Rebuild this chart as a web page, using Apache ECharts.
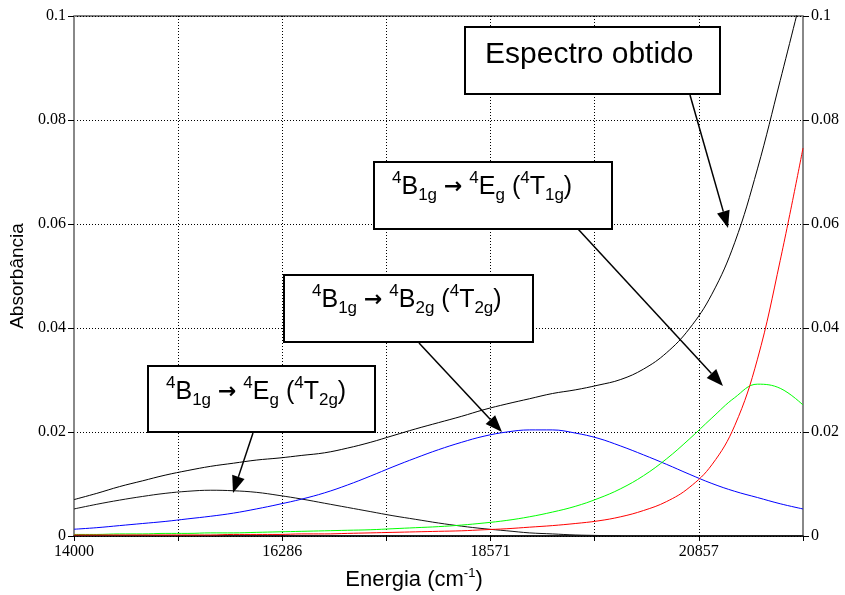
<!DOCTYPE html>
<html>
<head>
<meta charset="utf-8">
<script src="https://cdn.jsdelivr.net/npm/echarts@6/dist/echarts.min.js"></script>
<style>html,body{margin:0;padding:0;background:#fff}#c{width:845px;height:595px}</style>
</head>
<body>
<div id="c"></div>
<script>
// ---- data, energy in cm-1 ----
const energy = [14000,14250,14500,14750,15000,15250,15500,15750,16000,16250,16500,16750,17000,17250,17500,17750,
                18000,18250,18500,18750,19000,19250,19500,19750,20000,20250,20500,20750,21000,21250,21500,21750,22000];
// observed spectrum (black)
const spectrum   = [0.0070,0.0082,0.0095,0.0106,0.0117,0.0126,0.0134,0.0140,0.0146,0.0150,0.0155,0.0160,0.0169,0.0180,0.0193,0.0206,
                    0.0218,0.0230,0.0243,0.0254,0.0264,0.0274,0.0281,0.0290,0.0301,0.0321,0.0352,0.0398,0.0465,0.0564,0.0706,0.0876,0.1050];
// 4B1g -> 4Eg (4T2g)  (black)
const bandEgT2g  = [0.0052,0.0061,0.0069,0.0076,0.0082,0.0086,0.0088,0.0087,0.0084,0.0078,0.0071,0.0063,0.0055,0.0047,0.0039,0.0032,
                    0.0025,0.0019,0.0014,0.0010,0.0006,0.0004,0.0002,0.0001,0.0000,null,null,null,null,null,null,null,null];
// 4B1g -> 4B2g (4T2g)  (blue)
const bandB2gT2g = [0.0013,0.0016,0.0020,0.0024,0.0028,0.0033,0.0038,0.0044,0.0052,0.0061,0.0071,0.0083,0.0098,0.0115,0.0133,0.0150,
                    0.0166,0.0180,0.0192,0.0200,0.0204,0.0204,0.0198,0.0188,0.0173,0.0156,0.0138,0.0119,0.0101,0.0086,0.0074,0.0062,0.0052];
// 4B1g -> 4Eg (4T1g)  (green)
const bandEgT1g  = [0.0003,0.0003,0.0004,0.0004,0.0005,0.0005,0.0006,0.0006,0.0007,0.0008,0.0009,0.0010,0.0011,0.0012,0.0014,0.0016,
                    0.0018,0.0021,0.0025,0.0030,0.0037,0.0046,0.0057,0.0072,0.0091,0.0116,0.0148,0.0186,0.0227,0.0266,0.0292,0.0284,0.0252];
// high-energy band (red)
const bandHigh   = [0.0002,0.0002,0.0002,0.0002,0.0002,0.0002,0.0002,0.0003,0.0003,0.0003,0.0004,0.0004,0.0005,0.0006,0.0007,0.0008,
                    0.0009,0.0010,0.0012,0.0014,0.0017,0.0020,0.0024,0.0029,0.0037,0.0049,0.0066,0.0093,0.0137,0.0212,0.0340,0.0530,0.0746];
const xTickLabels = ['14000','','16286','','18571','','20857',''];
const yTickLabels = ['0','0.02','0.04','0.06','0.08','0.1'];
const xStart = 14000, xEnd = 22000, xStep = (xEnd - xStart) / 7;

function pairs(arr){
  const out = [];
  energy.forEach((e,i)=>{ if(arr[i]!==null) out.push([e - xStart, arr[i]]); });
  return out;
}

const serif = 'Liberation Serif';
const sans = 'Liberation Sans';

const rich = {
  n:   {fontSize: 25, fontFamily: sans, lineHeight: 34, verticalAlign: 'middle', fill: '#000'},
  sup: {fontSize: 17, fontFamily: sans, lineHeight: 20, verticalAlign: 'top', fill: '#000'},
  sub: {fontSize: 17, fontFamily: sans, lineHeight: 20, verticalAlign: 'bottom', fill: '#000'},
  ar:  {fontSize: 22, fontFamily: 'DejaVu Sans', fontWeight: 'bold', lineHeight: 34, verticalAlign: 'middle', fill: '#000'}
};

function box(x, y, w, h){
  return {type:'rect', z:100, shape:{x:x, y:y, width:w, height:h}, style:{fill:'#fff', stroke:'#000', lineWidth:2}};
}
function label(x, y, text){
  return {type:'text', z:101, x:x, y:y, style:{text:text, align:'left', verticalAlign:'middle', rich:rich}};
}
function arrow(x1, y1, x2, y2){
  const dx = x2 - x1, dy = y2 - y1, L = Math.sqrt(dx*dx + dy*dy);
  const ux = dx / L, uy = dy / L, hl = 17, hw = 6.5;
  const bx = x2 - ux*hl, by = y2 - uy*hl;
  return [
    {type:'line', z:102, shape:{x1:x1, y1:y1, x2:bx, y2:by}, style:{stroke:'#000', lineWidth:1.5}},
    {type:'polygon', z:102, shape:{points:[[x2,y2],[bx - uy*hw, by + ux*hw],[bx + uy*hw, by - ux*hw]]}, style:{fill:'#000'}}
  ];
}

const chart = echarts.init(document.getElementById('c'), null, {renderer:'canvas'});
const lineBase = {type:'line', showSymbol:false, smooth:0.4, lineStyle:{width:1}, clip:true, animation:false};

chart.setOption({
  animation:false,
  backgroundColor:'#fff',
  grid:{left:74, right:42, top:16, bottom:59, containLabel:false, outerBoundsMode:'none',
        show:true, borderColor:'#000', borderWidth:1, backgroundColor:'transparent'},
  xAxis:{
    type:'value', min:0, max:xEnd - xStart, interval:xStep,
    axisLine:{show:true, onZero:false, lineStyle:{color:'#000', width:1.5}},
    axisTick:{show:true, inside:false, length:5, lineStyle:{color:'#000', width:1}},
    axisLabel:{margin:8, color:'#000', fontFamily:serif, fontSize:16,
      formatter:function(v){ const i = Math.round(v / xStep); return xTickLabels[i] || ''; }},
    splitLine:{show:true, lineStyle:{color:'#000', type:[1,2], width:1}}
  },
  yAxis:[{
    type:'value', min:0, max:0.1, interval:0.02, position:'left',
    name:'Absorbância', nameLocation:'middle', nameGap:42,
    nameTextStyle:{fontFamily:sans, fontSize:19, color:'#000'},
    axisLine:{show:true, lineStyle:{color:'#888', width:2}},
    axisTick:{show:true, length:6, lineStyle:{color:'#000', width:1}},
    axisLabel:{margin:8, color:'#000', fontFamily:serif, fontSize:16,
      formatter:function(v){ return yTickLabels[Math.round(v/0.02)]; }},
    splitLine:{show:true, lineStyle:{color:'#000', type:[1,2], width:1}}
  },{
    type:'value', min:0, max:0.1, interval:0.02, position:'right',
    axisLine:{show:true, lineStyle:{color:'#888', width:2}},
    axisTick:{show:true, length:6, lineStyle:{color:'#000', width:1}},
    axisLabel:{margin:8, color:'#000', fontFamily:serif, fontSize:16,
      formatter:function(v){ return yTickLabels[Math.round(v/0.02)]; }},
    splitLine:{show:false}
  }],
  series:[
    Object.assign({}, lineBase, {name:'Espectro obtido', data:pairs(spectrum), itemStyle:{color:'#000'}, lineStyle:{width:1, color:'#000'}}),
    Object.assign({}, lineBase, {name:'4Eg(4T2g)', data:pairs(bandEgT2g), itemStyle:{color:'#111'}, lineStyle:{width:1, color:'#111'}}),
    Object.assign({}, lineBase, {name:'4B2g(4T2g)', data:pairs(bandB2gT2g), itemStyle:{color:'#0000ff'}, lineStyle:{width:1, color:'#0000ff'}}),
    Object.assign({}, lineBase, {name:'4Eg(4T1g)', data:pairs(bandEgT1g), itemStyle:{color:'#00ff00'}, lineStyle:{width:1, color:'#00ff00'}}),
    Object.assign({}, lineBase, {name:'high', data:pairs(bandHigh), itemStyle:{color:'#ff0000'}, lineStyle:{width:1, color:'#ff0000'}})
  ],
  graphic:[
    box(148, 366, 227, 66),
    label(166, 392, '{sup|4}{n|B}{sub|1g}{n| }{ar|→}{n| }{sup|4}{n|E}{sub|g}{n| (}{sup|4}{n|T}{sub|2g}{n|)}'),
    box(284, 275, 249, 67),
    label(312, 300, '{sup|4}{n|B}{sub|1g}{n| }{ar|→}{n| }{sup|4}{n|B}{sub|2g}{n| (}{sup|4}{n|T}{sub|2g}{n|)}'),
    box(374, 162, 238, 67),
    label(392, 187, '{sup|4}{n|B}{sub|1g}{n| }{ar|→}{n| }{sup|4}{n|E}{sub|g}{n| (}{sup|4}{n|T}{sub|1g}{n|)}'),
    box(465, 27, 255, 67),
    {type:'text', z:101, x:485, y:55, style:{text:'Espectro obtido', align:'left', verticalAlign:'middle', fontFamily:sans, fontSize:30, fill:'#000'}},
    ...arrow(253, 433, 233, 493),
    ...arrow(419, 343, 502, 432),
    ...arrow(578, 229, 723, 386),
    ...arrow(690, 95, 728, 228),
    {type:'text', z:101, x:414, y:580, style:{text:'{t|Energia (cm}{s|-1}{t|)}', align:'center', verticalAlign:'middle',
      rich:{t:{fontSize:22, fontFamily:sans, lineHeight:26, verticalAlign:'middle', fill:'#000'},
            s:{fontSize:13, fontFamily:sans, lineHeight:15, verticalAlign:'top', fill:'#000'}}}}
  ]
});
</script>
</body>
</html>
